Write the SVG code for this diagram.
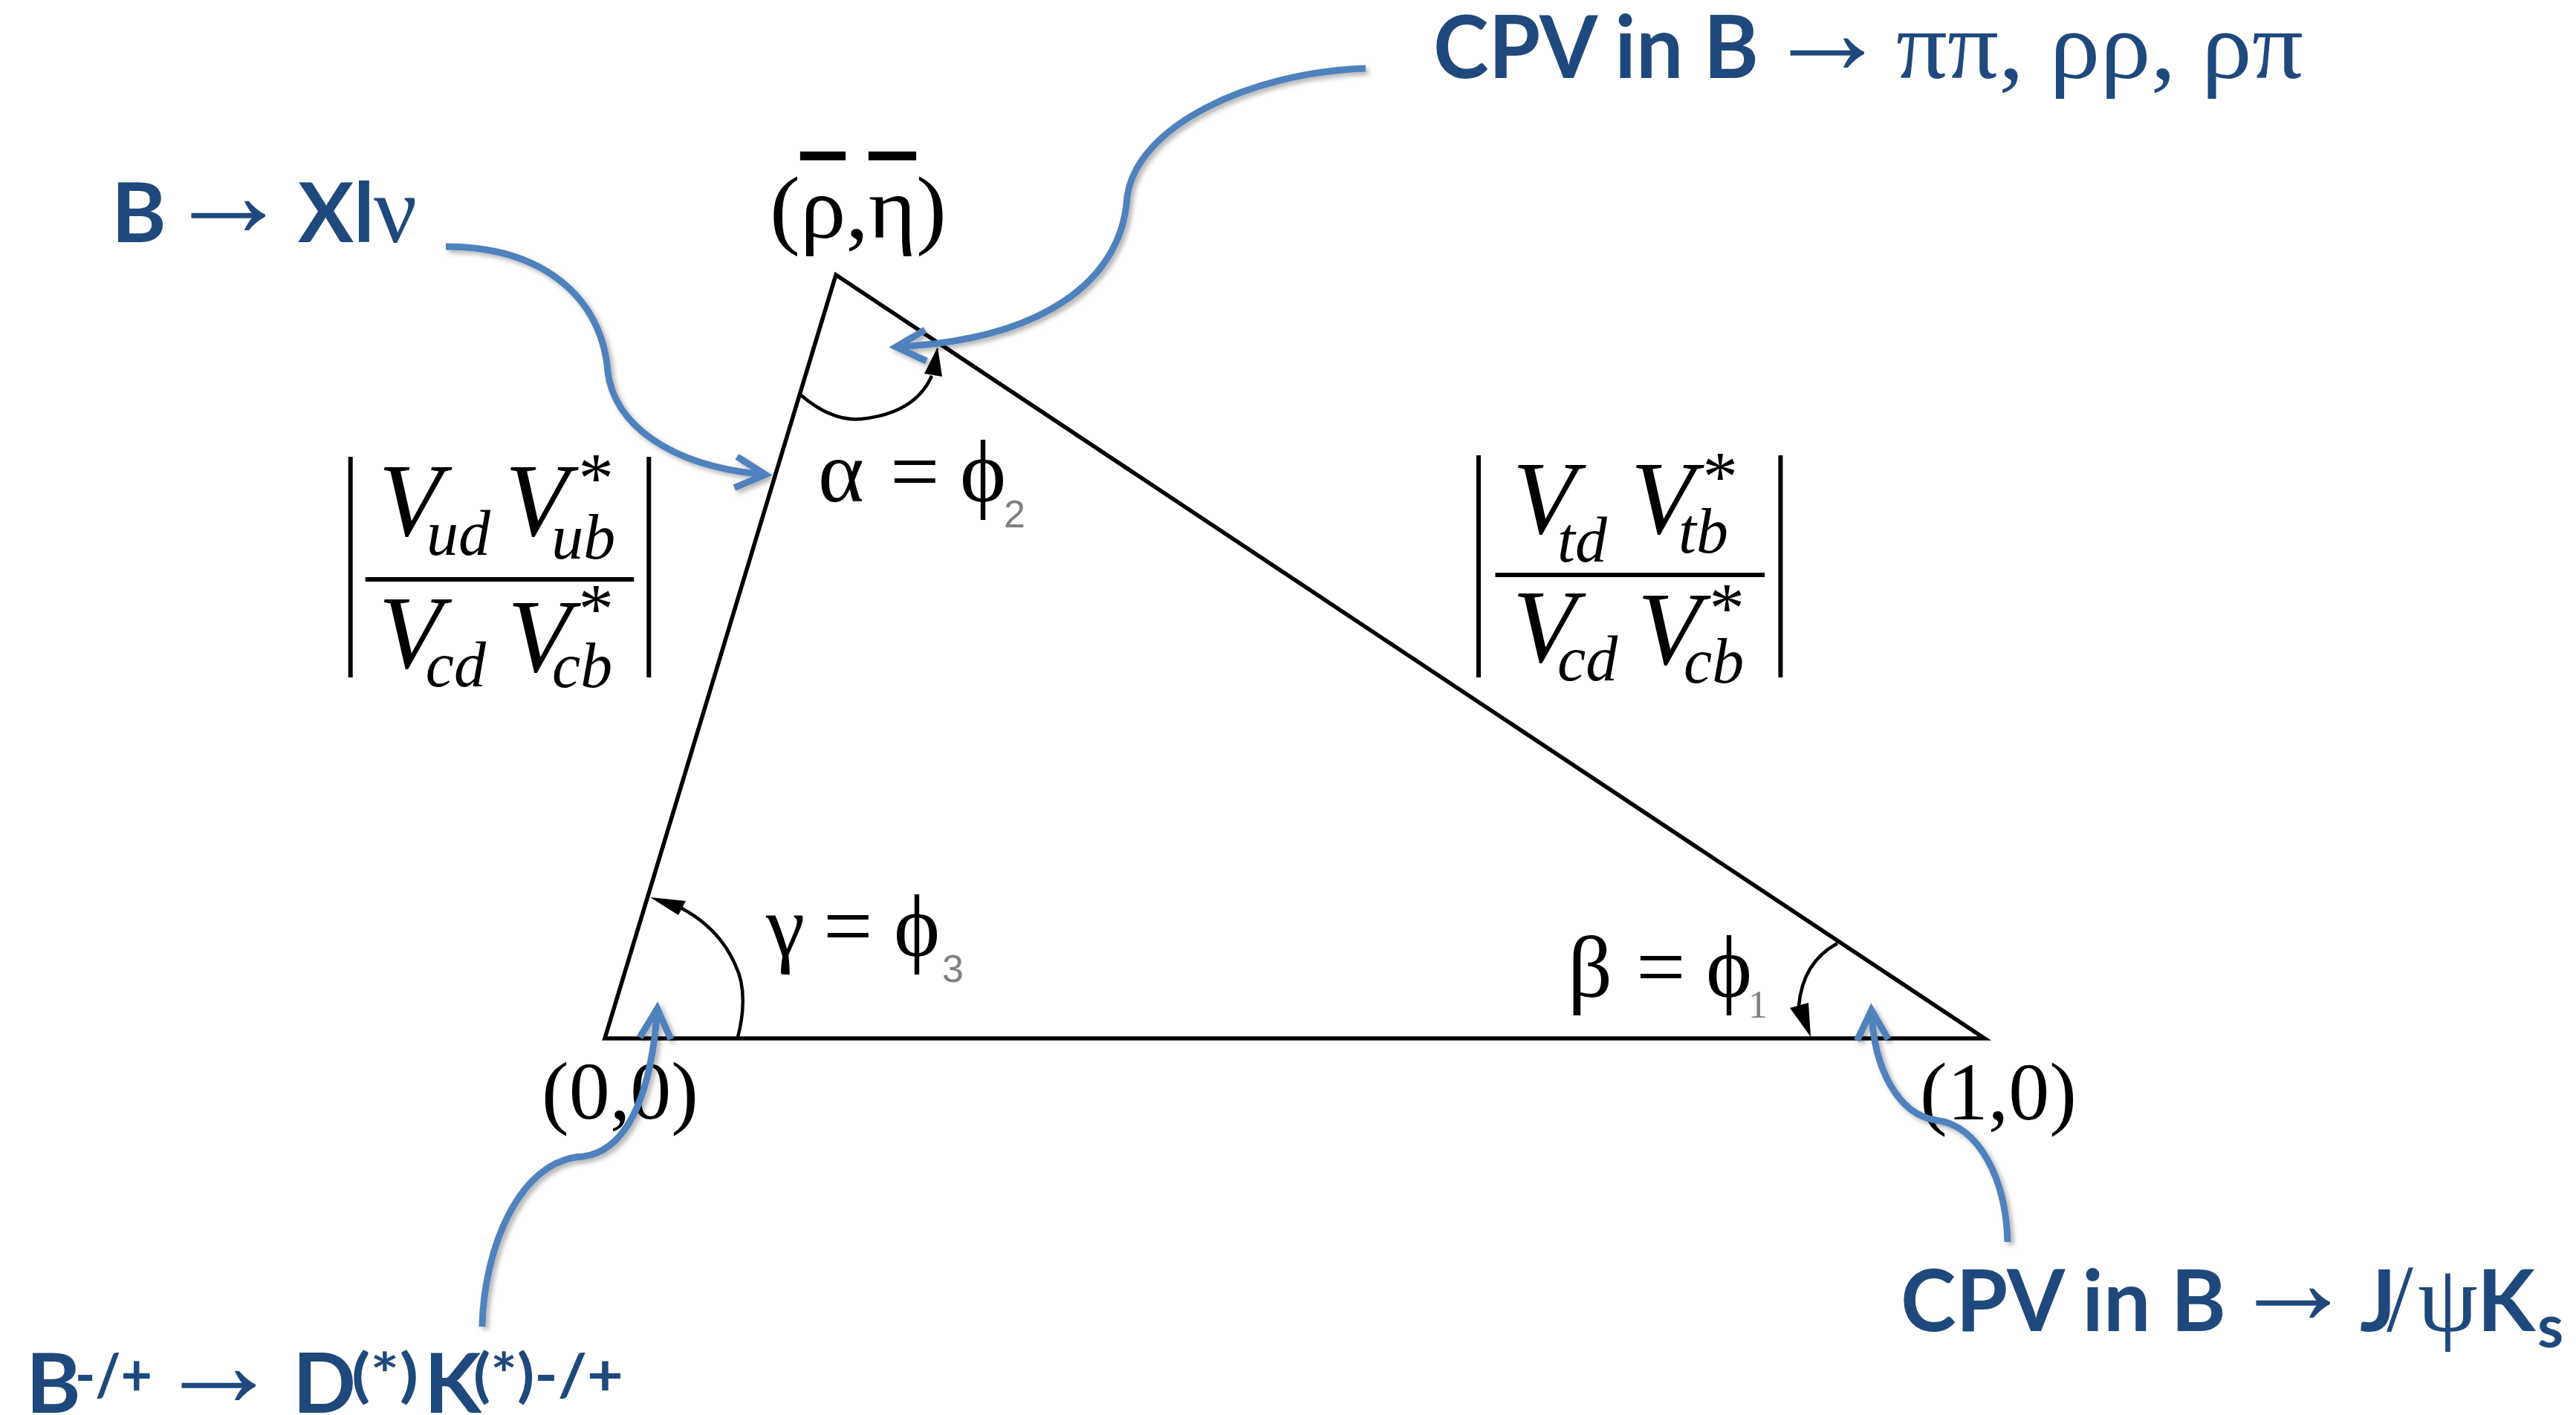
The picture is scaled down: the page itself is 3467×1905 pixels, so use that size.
<svg xmlns="http://www.w3.org/2000/svg" width="3467" height="1905" viewBox="0 0 3467 1905">
<style>
.lbl{font-family:Lato,"Liberation Sans",sans-serif;font-weight:700;fill:#1F497D}
.sym{font-family:"Liberation Serif","DejaVu Serif",serif;font-weight:400}
.arr{font-family:"Liberation Serif","DejaVu Serif",serif;font-weight:700;font-size:168px}
.tex{font-family:"Liberation Serif","DejaVu Serif",serif;fill:#000}
.it{font-style:italic}
.rm{font-style:normal}
.sub{font-family:"Liberation Sans",sans-serif;fill:#808080;font-size:52px}
.subs{font-family:"Liberation Serif",serif;fill:#808080;font-size:52px}
.ovl{text-decoration:overline;text-decoration-thickness:5px}
.edge{fill:none;stroke:#000;stroke-width:5.5;stroke-linejoin:miter}
.arc{fill:none;stroke:#000;stroke-width:4.5}
.head{fill:#000;stroke:none}
.bar{stroke:#000;stroke-width:6}
.conn{fill:none;stroke:#4F81BD;stroke-width:9;marker-end:url(#open-arrow)}
</style>
<defs>
<marker id="open-arrow" markerUnits="userSpaceOnUse" orient="auto" overflow="visible" markerWidth="10" markerHeight="10" refX="0" refY="0">
<path d="M-40,-21 L0,0 L-40,21" fill="none" stroke="#4F81BD" stroke-width="9" stroke-linejoin="miter"/>
</marker>
<filter id="shadow" x="-20%" y="-20%" width="140%" height="140%">
<feDropShadow dx="4" dy="4" stdDeviation="3" flood-color="#000" flood-opacity="0.3"/>
</filter>
</defs>
<rect width="3467" height="1905" fill="#fff"/>

<g id="triangle">
<polygon class="edge" points="1125,370 814,1398 2671,1398"/>
</g>

<g id="angle-alpha">
<path class="arc" d="M1078,532 Q1120,568 1160,564 Q1232,556 1254,506"/>
<polygon class="head" points="1262,467 1244,503 1268,507"/>
<text class="tex" y="675" font-size="118"><tspan x="1101">α</tspan> <tspan x="1198">=</tspan> <tspan x="1292">ϕ</tspan><tspan class="sub" x="1351" y="710">2</tspan></text>
</g>

<g id="angle-gamma">
<path class="arc" d="M993,1396 C1000,1370 1005,1330 990,1300 C975,1265 950,1240 916,1222"/>
<polygon class="head" points="875,1208 913,1232 923,1213"/>
<text class="tex" y="1287" font-size="118"><tspan x="1031">γ</tspan> <tspan x="1108">=</tspan> <tspan x="1203">ϕ</tspan><tspan class="sub" x="1268" y="1322">3</tspan></text>
</g>

<g id="angle-beta">
<path class="arc" d="M2473,1270 C2445,1285 2425,1310 2421,1354"/>
<polygon class="head" points="2437,1396 2409,1357 2434,1350"/>
<text class="tex" y="1342" font-size="118"><tspan x="2110">β</tspan> <tspan x="2202">=</tspan> <tspan x="2296">ϕ</tspan><tspan class="subs" x="2353" y="1370">1</tspan></text>
</g>

<g id="vertex-apex">
<text class="tex" x="1036" y="320" font-size="118" textLength="238" lengthAdjust="spacingAndGlyphs">(<tspan class="ovl">ρ</tspan>,<tspan class="ovl">η</tspan>)</text>
</g>
<g id="vertex-origin">
<text class="tex" x="729" y="1506" font-size="110">(0,0)</text>
</g>
<g id="vertex-one">
<text class="tex" x="2584" y="1507" font-size="110">(1,0)</text>
</g>

<g id="ratio-left">
<line class="bar" x1="471.7" y1="615" x2="471.7" y2="912"/>
<line class="bar" x1="873.3" y1="615" x2="873.3" y2="912"/>
<line class="bar" x1="491.7" y1="780" x2="853.3" y2="780"/>
<text class="tex it"><tspan x="509.6" y="721" font-size="140">V</tspan><tspan x="574" y="747" font-size="86">ud</tspan><tspan x="679.7" y="721" font-size="140">V</tspan><tspan class="rm" x="778.4" y="676" font-size="95">*</tspan><tspan x="742.3" y="752" font-size="86">ub</tspan></text>
<text class="tex it"><tspan x="509.6" y="899" font-size="140">V</tspan><tspan x="572.8" y="924" font-size="86">cd</tspan><tspan x="683" y="904" font-size="140">V</tspan><tspan class="rm" x="778.4" y="852" font-size="95">*</tspan><tspan x="743" y="925" font-size="86">cb</tspan></text>
</g>

<g id="ratio-right">
<line class="bar" x1="1990" y1="613" x2="1990" y2="912"/>
<line class="bar" x1="2396.4" y1="613" x2="2396.4" y2="912"/>
<line class="bar" x1="2012.5" y1="774" x2="2375" y2="774"/>
<text class="tex it"><tspan x="2035.8" y="717.5" font-size="140">V</tspan><tspan x="2096" y="755.7" font-size="86">td</tspan><tspan x="2194.8" y="717.5" font-size="140">V</tspan><tspan class="rm" x="2291.4" y="674" font-size="95">*</tspan><tspan x="2259" y="744" font-size="86">tb</tspan></text>
<text class="tex it"><tspan x="2035.8" y="890.5" font-size="140">V</tspan><tspan x="2096" y="915.7" font-size="86">cd</tspan><tspan x="2203.7" y="894" font-size="140">V</tspan><tspan class="rm" x="2300.4" y="850.7" font-size="95">*</tspan><tspan x="2266" y="919" font-size="86">cb</tspan></text>
</g>

<g id="label-pipi">
<text class="lbl" y="105" font-size="116"><tspan x="1929" textLength="438" lengthAdjust="spacingAndGlyphs">CPV in B</tspan> <tspan class="arr" x="2375" y="99">→</tspan> <tspan class="sym" x="2552" y="105" font-size="129" textLength="548" lengthAdjust="spacingAndGlyphs">ππ, ρρ, ρπ</tspan></text>
</g>

<g id="label-xlnu">
<text class="lbl" y="326" font-size="112"><tspan x="150">B</tspan> <tspan class="arr" x="223" y="318">→</tspan> <tspan x="401" y="326">Xl</tspan><tspan class="sym" x="503" font-size="129">ν</tspan></text>
</g>

<g id="label-dk">
<text class="lbl" y="1902" font-size="112"><tspan x="35">B</tspan><tspan x="101" y="1879" font-size="78" textLength="104" lengthAdjust="spacingAndGlyphs">-/+</tspan> <tspan class="arr" x="210" y="1893">→</tspan> <tspan x="394" y="1902">D</tspan><tspan x="473" y="1879" font-size="78" textLength="90" lengthAdjust="spacingAndGlyphs">(*)</tspan><tspan x="571" y="1902">K</tspan><tspan x="637" y="1879" font-size="78" textLength="202" lengthAdjust="spacingAndGlyphs">(*)-/+</tspan></text>
</g>

<g id="label-jpsik">
<text class="lbl" y="1792" font-size="114"><tspan x="2558" textLength="438" lengthAdjust="spacingAndGlyphs">CPV in B</tspan> <tspan class="arr" x="3002" y="1782">→</tspan> <tspan x="3176" y="1792">J</tspan><tspan class="sym" x="3212" font-size="129">/</tspan><tspan class="sym" x="3254" font-size="129">ψ</tspan><tspan x="3334">K</tspan><tspan x="3415" y="1814" font-size="80">s</tspan></text>
</g>

<g id="connectors" filter="url(#shadow)">
<path class="conn" d="M600,332 C730,332 810,400 818,500 C826,570 900,628 1030,639"/>
<path class="conn" d="M1838,92 C1680,98 1530,170 1517,265 C1510,380 1400,458 1206,467"/>
<path class="conn" d="M649,1786 C651,1680 700,1560 785,1557 C850,1548 878,1460 884.6,1358"/>
<path class="conn" d="M2702,1672 C2700,1590 2665,1515 2605,1508 C2555,1500 2522,1440 2518.7,1360"/>
</g>
</svg>
